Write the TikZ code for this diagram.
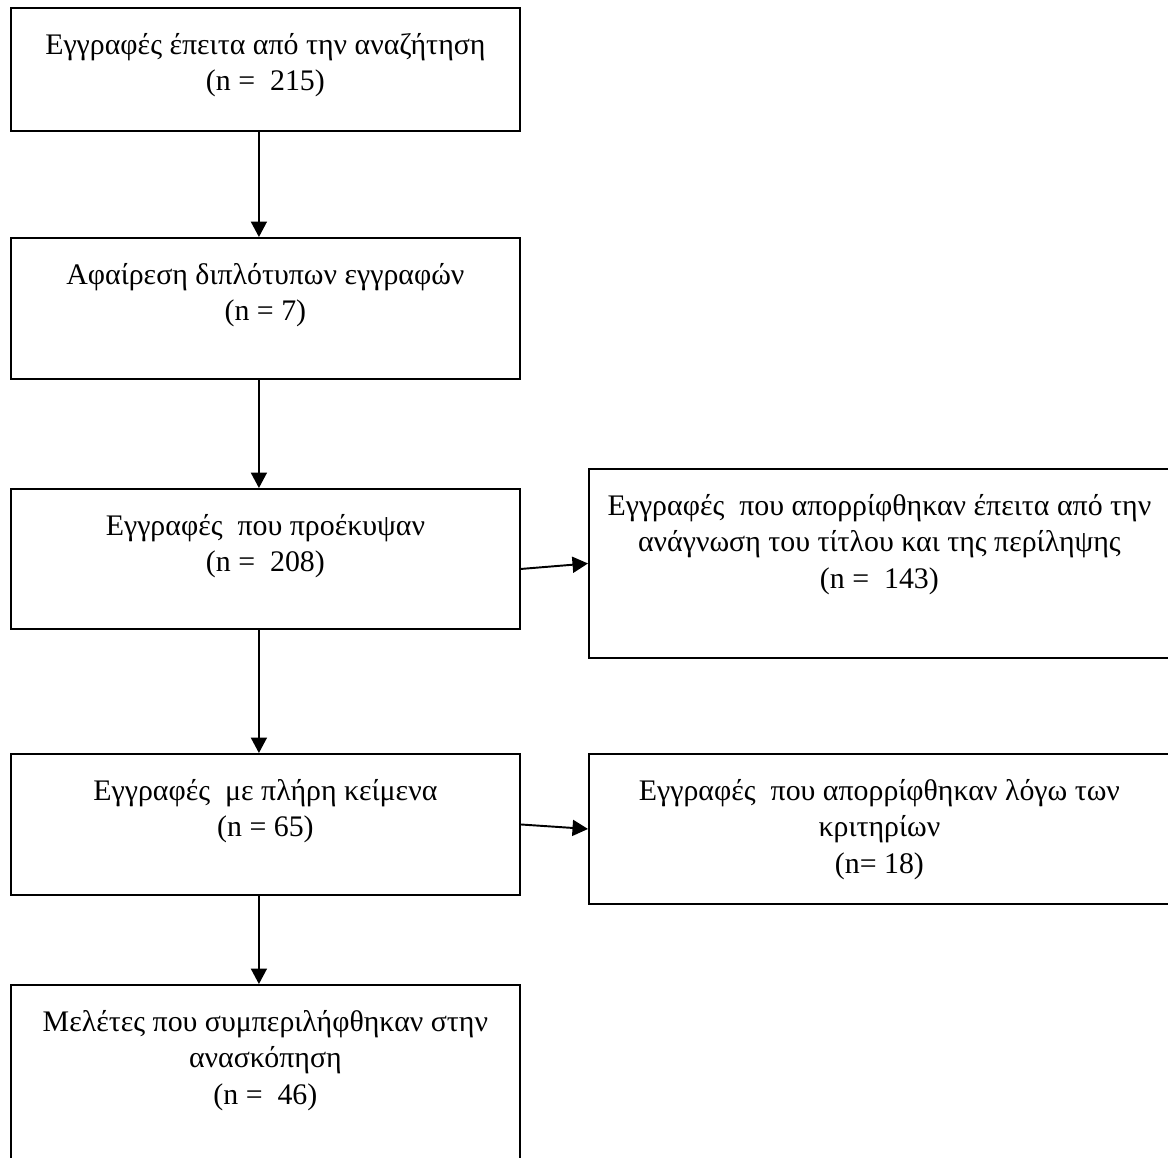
\documentclass[tikz,border=0pt]{standalone}
\usepackage{fontspec}
\setmainfont{Liberation Serif}
\usetikzlibrary{arrows.meta}
\tikzset{fbox/.style={draw,line width=1.1pt,anchor=north west,inner sep=0pt}}
\tikzset{left/.style={minimum width=10.18cm}}
\tikzset{right/.style={minimum width=11.62cm}}
\tikzset{ftext/.style={anchor=north,yshift=-0.52cm,align=center,inner sep=0pt,
  font=\fontsize{17}{20.8}\selectfont}}
\tikzset{flow/.style={line width=1.1pt,-{Triangle[length=0.31cm,width=0.32cm]}}}

\begin{document}
\begin{tikzpicture}[x=0.02cm,y=-0.02cm]
\useasboundingbox (0,0) rectangle (1168,1157);
% left column
\node [fbox,left,minimum height=2.46cm,
  label={[ftext]north:{Εγγραφές έπειτα από την αναζήτηση\\(n =\ \ 215)}}] (search) at (10,7) {};
\node [fbox,left,minimum height=2.82cm,
  label={[ftext]north:{Αφαίρεση διπλότυπων εγγραφών\\(n = 7)}}] (dupl) at (10,237) {};
\node [fbox,left,minimum height=2.8cm,
  label={[ftext]north:{Εγγραφές\ \ που προέκυψαν\\(n =\ \ 208)}}] (remain) at (10,488) {};
\node [fbox,left,minimum height=2.82cm,
  label={[ftext]north:{Εγγραφές\ \ με πλήρη κείμενα\\(n = 65)}}] (fulltext) at (10,753) {};
\node [fbox,left,minimum height=4cm,
  label={[ftext]north:{Μελέτες που συμπεριλήφθηκαν στην\\ανασκόπηση\\(n =\ \ 46)}}] (included) at (10,984) {};
% right column
\node [fbox,right,minimum height=3.78cm,
  label={[ftext]north:{Εγγραφές\ \ που απορρίφθηκαν έπειτα από την\\ανάγνωση του τίτλου και της περίληψης\\(n =\ \ 143)}}] (excl1) at (588,468) {};
\node [fbox,right,minimum height=3cm,
  label={[ftext]north:{Εγγραφές\ \ που απορρίφθηκαν λόγω των\\κριτηρίων\\(n= 18)}}] (excl2) at (588,753) {};
% arrows
\draw [flow] ([xshift=-0.13cm]search.south) -- ([xshift=-0.13cm]dupl.north);
\draw [flow] ([xshift=-0.13cm]dupl.south) -- ([xshift=-0.13cm]remain.north);
\draw [flow] ([xshift=-0.13cm]remain.south) -- ([xshift=-0.13cm]fulltext.north);
\draw [flow] ([xshift=-0.13cm]fulltext.south) -- ([xshift=-0.13cm]included.north);
\draw [flow] ([yshift=-0.2cm]remain.east) -- (excl1.west);
\draw [flow] (fulltext.east) -- (excl2.west);
\end{tikzpicture}
\end{document}
